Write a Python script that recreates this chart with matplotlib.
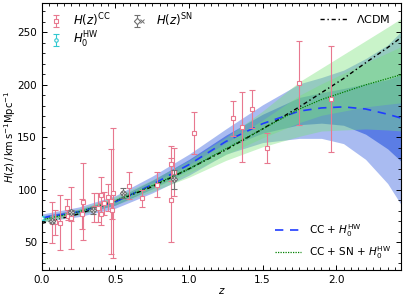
import numpy as np
import matplotlib
matplotlib.use("Agg")
import matplotlib.pyplot as plt
from matplotlib.ticker import MultipleLocator
from matplotlib.legend_handler import HandlerTuple

# cosmic chronometer points
cc_z = [0.07, 0.09, 0.12, 0.17, 0.179, 0.199, 0.2, 0.27, 0.28, 0.352, 0.3802,
        0.4, 0.4004, 0.4247, 0.4497, 0.47, 0.4783, 0.48, 0.593, 0.68, 0.781,
        0.875, 0.88, 0.9, 1.037, 1.3, 1.363, 1.43, 1.53, 1.75, 1.965]
cc_H = [69, 69, 68.6, 83, 75, 75, 72.9, 77, 88.8, 83, 83,
        95, 77, 87.1, 92.8, 89, 80.9, 97, 104, 92, 105,
        125, 90, 117, 154, 168, 160, 177, 140, 202, 186.5]
cc_err = [19.6, 12, 26.2, 8, 4, 5, 29.6, 14, 36.6, 14, 13.5,
          17, 10.2, 11.2, 12.9, 50, 9, 62, 13, 8, 12,
          17, 40, 23, 20, 17, 33.6, 18, 14, 40, 50.4]

# supernova-derived points
sn_z = [0.07, 0.2, 0.35, 0.55, 0.9]
sn_H = [69.8, 78.8, 80.3, 96.9, 110.2]
sn_err = [1.5, 2.0, 3.0, 4.5, 9.0]

# local H0
hw_z = [0.0]
hw_H = [73.3]
hw_err = [1.8]

# reconstructed curves
z_grid = [0.0, 0.25, 0.5, 0.75, 1.0, 1.25, 1.5, 1.75, 1.9, 2.05, 2.2, 2.35, 2.45]
lcdm_H = [68, 77, 89, 103, 120, 138, 158, 179, 192.5, 206, 221, 235.5, 246]
cc_hw_mean = [73.3, 79, 88.5, 105, 124, 146, 163, 175, 178, 179, 177, 172, 168]
cc_hw_sig = [1.8, 2.3, 3.0, 4.0, 5.0, 6.0, 9.0, 13, 14.5, 17.5, 24, 33, 42]
all_mean = [71.5, 79, 89.5, 104, 120, 139, 158, 177, 186, 193, 200, 206, 210]
all_sig = [1.2, 1.5, 2, 2.8, 4, 5.5, 8.5, 13, 15, 18, 21, 24.5, 27]

CC_COLOR = "#e8788f"
SN_COLOR = "#707070"
HW_COLOR = "#30c8d0"
GREEN_BAND = "#78e178"

plt.rcParams["font.size"] = 7.5
plt.rcParams["mathtext.fontset"] = "dejavusans"

fig = plt.figure(figsize=(4.07, 2.98), dpi=100)
ax = fig.add_axes([0.103, 0.094, 0.882, 0.896])

zg = np.array(z_grid)
bm, bs = np.array(cc_hw_mean), np.array(cc_hw_sig)
gm, gs = np.array(all_mean), np.array(all_sig)

# blue bands (CC + H0), then green bands on top
ax.fill_between(zg, bm - 2 * bs, bm + 2 * bs, color="royalblue", alpha=0.45, lw=0)
ax.fill_between(zg, bm - bs, bm + bs, color="royalblue", alpha=0.75, lw=0)
for k in (2, 1):
    ax.fill_between(zg, gm - k * gs, gm + k * gs, color=GREEN_BAND, alpha=0.4, lw=0)

l_lcdm, = ax.plot(zg, lcdm_H, color="black", lw=1.0, ls=(0, (3, 2, 1, 2)))
l_b, = ax.plot(zg, bm, color="#1f3cff", lw=1.2, ls=(0, (5, 4)))
l_g, = ax.plot(zg, gm, color="green", lw=0.9, ls=(0, (1, 1)))

h_cc = ax.errorbar(cc_z, cc_H, yerr=cc_err, fmt="s", ms=3, mfc="white",
                   mec=CC_COLOR, mew=0.8, color=CC_COLOR, elinewidth=0.8,
                   capsize=2, capthick=0.8, zorder=5)
h_sn = ax.errorbar(sn_z, sn_H, yerr=sn_err, fmt="D", ms=3.2, mfc="white",
                   mec=SN_COLOR, mew=0.8, color=SN_COLOR, elinewidth=0.8,
                   capsize=2, capthick=0.8, zorder=6)
h_snx, = ax.plot(sn_z, sn_H, "x", ms=2.6, mew=0.7, color=SN_COLOR, zorder=7)
h_hw = ax.errorbar(hw_z, hw_H, yerr=hw_err, fmt="o", ms=2.5, mfc="white",
                   mec=HW_COLOR, mew=0.8, color=HW_COLOR, elinewidth=0.8,
                   capsize=2, capthick=0.8, zorder=6)

ax.set_xlim(0, 2.44)
ax.set_ylim(23.6, 278)
ax.xaxis.set_major_locator(MultipleLocator(0.5))
ax.xaxis.set_minor_locator(MultipleLocator(0.05))
ax.yaxis.set_major_locator(MultipleLocator(50))
ax.yaxis.set_minor_locator(MultipleLocator(10))
ax.tick_params(which="both", direction="in", top=True, right=True, labelsize=7.5)
ax.tick_params(which="major", length=3.5, width=0.7)
ax.tick_params(which="minor", length=2, width=0.6)
for sp in ax.spines.values():
    sp.set_linewidth(0.8)

ax.set_xlabel(r"$z$", labelpad=1)
ax.set_ylabel(r"$H(z)\,/\,\mathrm{km\,s^{-1}Mpc^{-1}}$", fontsize=7.2)
ax.yaxis.set_label_coords(-0.068, 0.5)

leg1 = ax.legend([h_cc, h_hw, (h_sn, h_snx)],
                 [r"$H(z)^{\rm CC}$", r"$H_0^{\rm HW}$", r"$H(z)^{\rm SN}$"],
                 handler_map={tuple: HandlerTuple(ndivide=None, pad=0)},
                 loc="upper left", ncol=2, frameon=False, fontsize=8.5,
                 columnspacing=2.0, handlelength=1.0, handletextpad=0.9,
                 labelspacing=0.1, borderaxespad=0.3)
ax.add_artist(leg1)
leg2 = ax.legend([l_lcdm], [r"$\Lambda$CDM"], loc="upper right",
                 frameon=False, fontsize=8, handlelength=2.5)
ax.add_artist(leg2)
ax.legend([l_b, l_g], [r"CC + $H_0^{\rm HW}$", r"CC + SN + $H_0^{\rm HW}$"],
          loc="lower right", frameon=False, fontsize=7.5, handlelength=2.5)

fig.savefig("out.png", dpi=100)
